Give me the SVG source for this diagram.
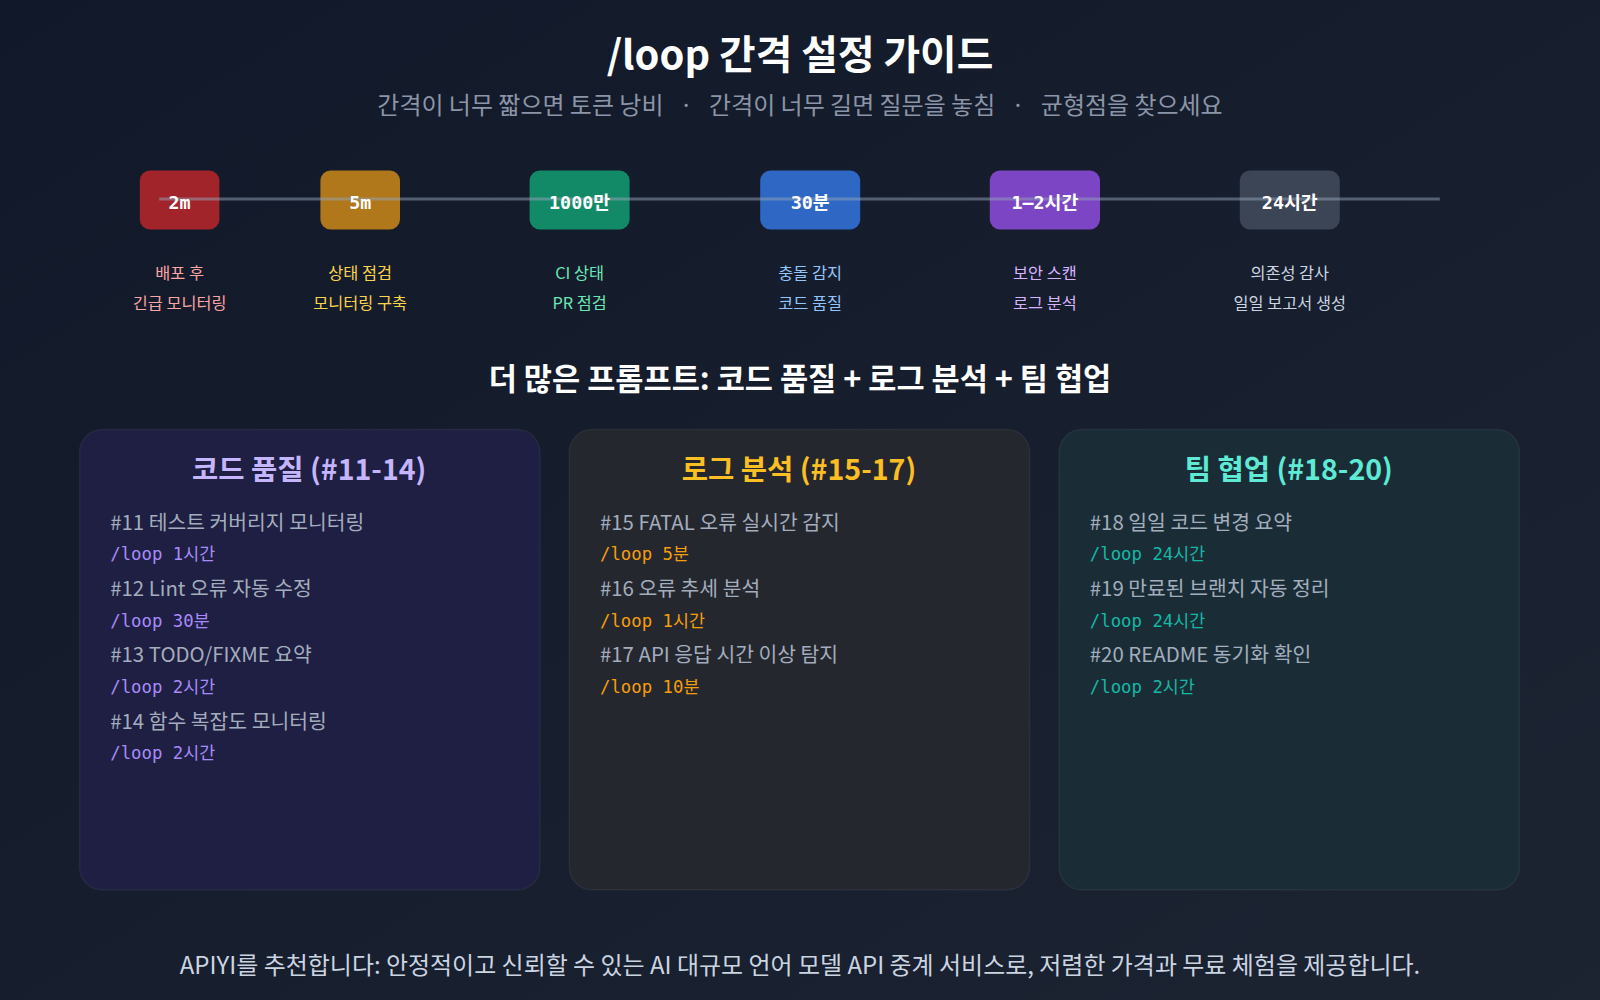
<svg xmlns="http://www.w3.org/2000/svg" width="1600" height="1000" viewBox="0 0 1600 1000">
<defs>
<linearGradient id="bg" x1="0" y1="0" x2="1" y2="1"><stop offset="0" stop-color="#111829"/><stop offset="1" stop-color="#1c2331"/></linearGradient>
<style>
.s{font-family:"Noto Sans CJK KR","Noto Sans",sans-serif}
.pill{font-family:"DejaVu Sans Mono","Noto Sans CJK KR",monospace;font-weight:bold;font-size:18px;fill:#fff;text-anchor:middle}
.lab{font-family:"Noto Sans CJK KR",sans-serif;font-size:16px;text-anchor:middle}
.it{font-family:"Noto Sans CJK KR",sans-serif;font-size:20px;fill:#a3adbd}
.cd{font-family:"DejaVu Sans Mono","Noto Sans CJK KR",monospace;font-size:17px}
.ct{font-family:"Noto Sans CJK KR",sans-serif;font-size:28px;font-weight:bold;text-anchor:middle}
.card{stroke:#ffffff;stroke-opacity:0.06;stroke-width:1.5}
</style>
</defs>
<rect width="1600" height="1000" fill="url(#bg)"/>
<g transform="scale(1.020408)">
<text x="784" y="68" class="s" font-size="39" font-weight="bold" fill="#fff" text-anchor="middle">/loop 간격 설정 가이드</text>
<text x="784" y="112" class="s" font-size="23.5" fill="#8b95a7" text-anchor="middle" xml:space="preserve">간격이 너무 짧으면 토큰 낭비   ·   간격이 너무 길면 질문을 놓침   ·   균형점을 찾으세요</text>
<g id="nodes-timeline">
<g id="t1"><rect x="137" y="167" width="78" height="58" rx="10" fill="#a0242a"/></g>
<g id="t2"><rect x="314" y="167" width="78" height="58" rx="10" fill="#b0781a"/></g>
<g id="t3"><rect x="519" y="167" width="98" height="58" rx="10" fill="#128a68"/></g>
<g id="t4"><rect x="745" y="167" width="98" height="58" rx="10" fill="#2f68c4"/></g>
<g id="t5"><rect x="970" y="167" width="108" height="58" rx="10" fill="#7c45c4"/></g>
<g id="t6"><rect x="1215" y="167" width="98" height="58" rx="10" fill="#3b4556"/></g>
</g>
<g id="connectors"><line x1="156" y1="195" x2="1411" y2="195" stroke="#94a3b8" stroke-opacity="0.5" stroke-width="3"/></g>
<g id="pill-text">
<text x="176" y="205" class="pill">2m</text>
<text x="353" y="205" class="pill">5m</text>
<text x="568" y="205" class="pill">1000만</text>
<text x="794" y="205" class="pill">30분</text>
<text x="1024" y="205" class="pill">1–2시간</text>
<text x="1264" y="205" class="pill">24시간</text>
<text x="176" y="273" class="lab" fill="#fca5a5">배포 후</text><text x="176" y="303" class="lab" fill="#fca5a5">긴급 모니터링</text>
<text x="353" y="273" class="lab" fill="#fcd34d">상태 점검</text><text x="353" y="303" class="lab" fill="#fcd34d">모니터링 구축</text>
<text x="568" y="273" class="lab" fill="#6ee7b7">CI 상태</text><text x="568" y="303" class="lab" fill="#6ee7b7">PR 점검</text>
<text x="794" y="273" class="lab" fill="#93c5fd">충돌 감지</text><text x="794" y="303" class="lab" fill="#93c5fd">코드 품질</text>
<text x="1024" y="273" class="lab" fill="#d8b4fe">보안 스캔</text><text x="1024" y="303" class="lab" fill="#d8b4fe">로그 분석</text>
<text x="1264" y="273" class="lab" fill="#cbd5e1">의존성 감사</text><text x="1264" y="303" class="lab" fill="#cbd5e1">일일 보고서 생성</text>
</g>
<text x="784" y="382" class="s" font-size="30" font-weight="bold" fill="#fff" text-anchor="middle">더 많은 프롬프트: 코드 품질 + 로그 분석 + 팀 협업</text>
<g id="card1">
<rect x="78" y="421" width="451" height="451" rx="22" fill="#1e1f42" class="card"/>
<text x="303" y="470" class="ct" fill="#c4b5fd">코드 품질 (#11-14)</text>
<text x="108" y="519" class="it">#11 테스트 커버리지 모니터링</text><text x="108" y="549" class="cd" fill="#a78bfa">/loop 1시간</text>
<text x="108" y="584" class="it">#12 Lint 오류 자동 수정</text><text x="108" y="614" class="cd" fill="#a78bfa">/loop 30분</text>
<text x="108" y="649" class="it">#13 TODO/FIXME 요약</text><text x="108" y="679" class="cd" fill="#a78bfa">/loop 2시간</text>
<text x="108" y="714" class="it">#14 함수 복잡도 모니터링</text><text x="108" y="744" class="cd" fill="#a78bfa">/loop 2시간</text>
</g>
<g id="card2">
<rect x="558" y="421" width="451" height="451" rx="22" fill="#25272f" class="card"/>
<text x="783" y="470" class="ct" fill="#fbbf24">로그 분석 (#15-17)</text>
<text x="588" y="519" class="it">#15 FATAL 오류 실시간 감지</text><text x="588" y="549" class="cd" fill="#f59e0b">/loop 5분</text>
<text x="588" y="584" class="it">#16 오류 추세 분석</text><text x="588" y="614" class="cd" fill="#f59e0b">/loop 1시간</text>
<text x="588" y="649" class="it">#17 API 응답 시간 이상 탐지</text><text x="588" y="679" class="cd" fill="#f59e0b">/loop 10분</text>
</g>
<g id="card3">
<rect x="1038" y="421" width="451" height="451" rx="22" fill="#1a2d37" class="card"/>
<text x="1263" y="470" class="ct" fill="#5eead4">팀 협업 (#18-20)</text>
<text x="1068" y="519" class="it">#18 일일 코드 변경 요약</text><text x="1068" y="549" class="cd" fill="#14b8a6">/loop 24시간</text>
<text x="1068" y="584" class="it">#19 만료된 브랜치 자동 정리</text><text x="1068" y="614" class="cd" fill="#14b8a6">/loop 24시간</text>
<text x="1068" y="649" class="it">#20 README 동기화 확인</text><text x="1068" y="679" class="cd" fill="#14b8a6">/loop 2시간</text>
</g>
<text x="784" y="955" class="s" font-size="23.5" fill="#cbd5e1" text-anchor="middle">APIYI를 추천합니다: 안정적이고 신뢰할 수 있는 AI 대규모 언어 모델 API 중계 서비스로, 저렴한 가격과 무료 체험을 제공합니다.</text>
</g>
</svg>
